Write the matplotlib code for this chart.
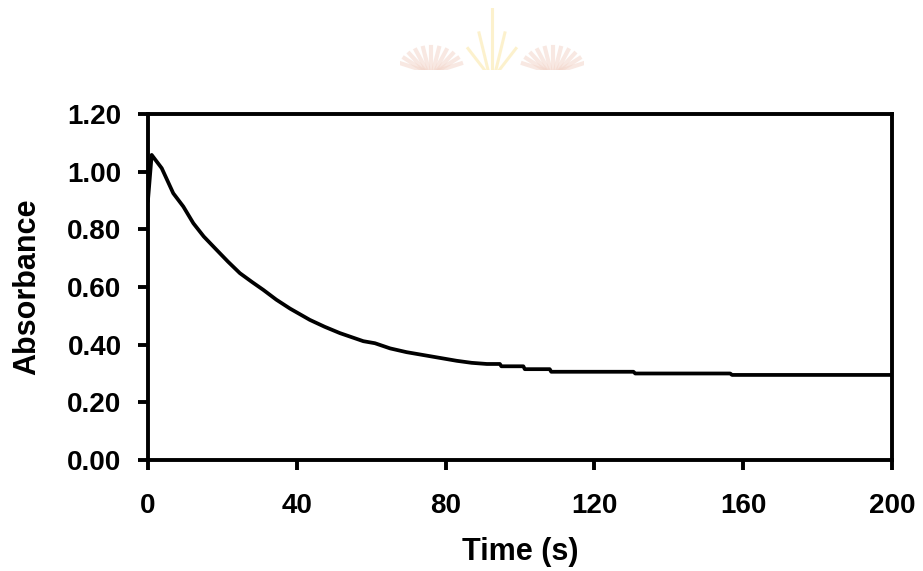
import matplotlib
matplotlib.use("Agg")
import matplotlib.pyplot as plt
import numpy as np

# absorbance decay
time_s = [0, 1.0, 3.7, 6.8, 9.5, 12.2, 15.0, 18.5, 21.5, 24.7, 28.0, 31.0, 34.5, 38.2,
          43.5, 47.5, 51.6, 57.9, 61.0, 65.1, 69.5, 74.0, 78.5, 83.0, 87.0, 91.1,
          94.6, 95.0, 100.9, 101.3, 108.0, 108.4, 130.5, 131.0, 156.5, 157.0, 200]
absorbance = [0.90, 1.058, 1.012, 0.925, 0.879, 0.821, 0.775, 0.728, 0.688, 0.648, 0.617, 0.590,
              0.556, 0.525, 0.486, 0.462, 0.440, 0.412, 0.405, 0.387, 0.374, 0.364, 0.354,
              0.344, 0.337, 0.333, 0.333, 0.325, 0.325, 0.315, 0.315, 0.306, 0.306, 0.300,
              0.300, 0.295, 0.295]

x_ticks = [0, 40, 80, 120, 160, 200]
y_ticks = [0.0, 0.2, 0.4, 0.6, 0.8, 1.0, 1.2]

plt.rcParams['font.family'] = ['Liberation Sans', 'DejaVu Sans']
plt.rcParams['font.weight'] = 'bold'

fig = plt.figure(figsize=(9.23, 5.71), dpi=100)
ax = fig.add_axes([0.1603, 0.1944, 0.8061, 0.6060])

ax.plot(time_s, absorbance, color='black', linewidth=2.7, solid_joinstyle='round')

ax.set_xlim(0, 200)
ax.set_ylim(0, 1.2)
ax.set_xticks(x_ticks)
ax.set_xticklabels([str(t) for t in x_ticks])
ax.set_yticks(y_ticks)
ax.set_yticklabels([f'{v:.2f}' for v in y_ticks])

for side in ['left', 'right', 'top', 'bottom']:
    ax.spines[side].set_linewidth(2.8)
    ax.spines[side].set_color('black')

ax.tick_params(axis='both', direction='out', length=7, width=2.8, labelsize=20)
ax.tick_params(axis='x', pad=17)
ax.tick_params(axis='y', pad=12)

ax.set_xlabel('Time (s)', fontsize=22, fontweight='bold', labelpad=13)
ax.set_ylabel('Absorbance', fontsize=22, fontweight='bold', labelpad=18)

# faint watermark logo at the top
wm = fig.add_axes([0.433, 0.877, 0.2, 0.109])
wm.set_xlim(0, 1)
wm.set_ylim(0, 1)
wm.axis('off')
for cx in [0.17, 0.83]:
    for a in np.linspace(0.3, np.pi - 0.3, 11):
        wm.plot([cx + 0.05 * np.cos(a), cx + 0.17 * np.cos(a)],
                [0.0, 0.37 * np.sin(a)],
                color='#f3d6cb', linewidth=3, alpha=0.55)
for dx, h in [(-0.13, 0.35), (-0.07, 0.6), (0.0, 1.0), (0.07, 0.6), (0.13, 0.35)]:
    wm.plot([0.5 + dx * 0.3, 0.5 + dx], [0.0, h], color='#fcecb8', linewidth=2.2, alpha=0.7)

fig.savefig('out.png', dpi=100, facecolor='white')
